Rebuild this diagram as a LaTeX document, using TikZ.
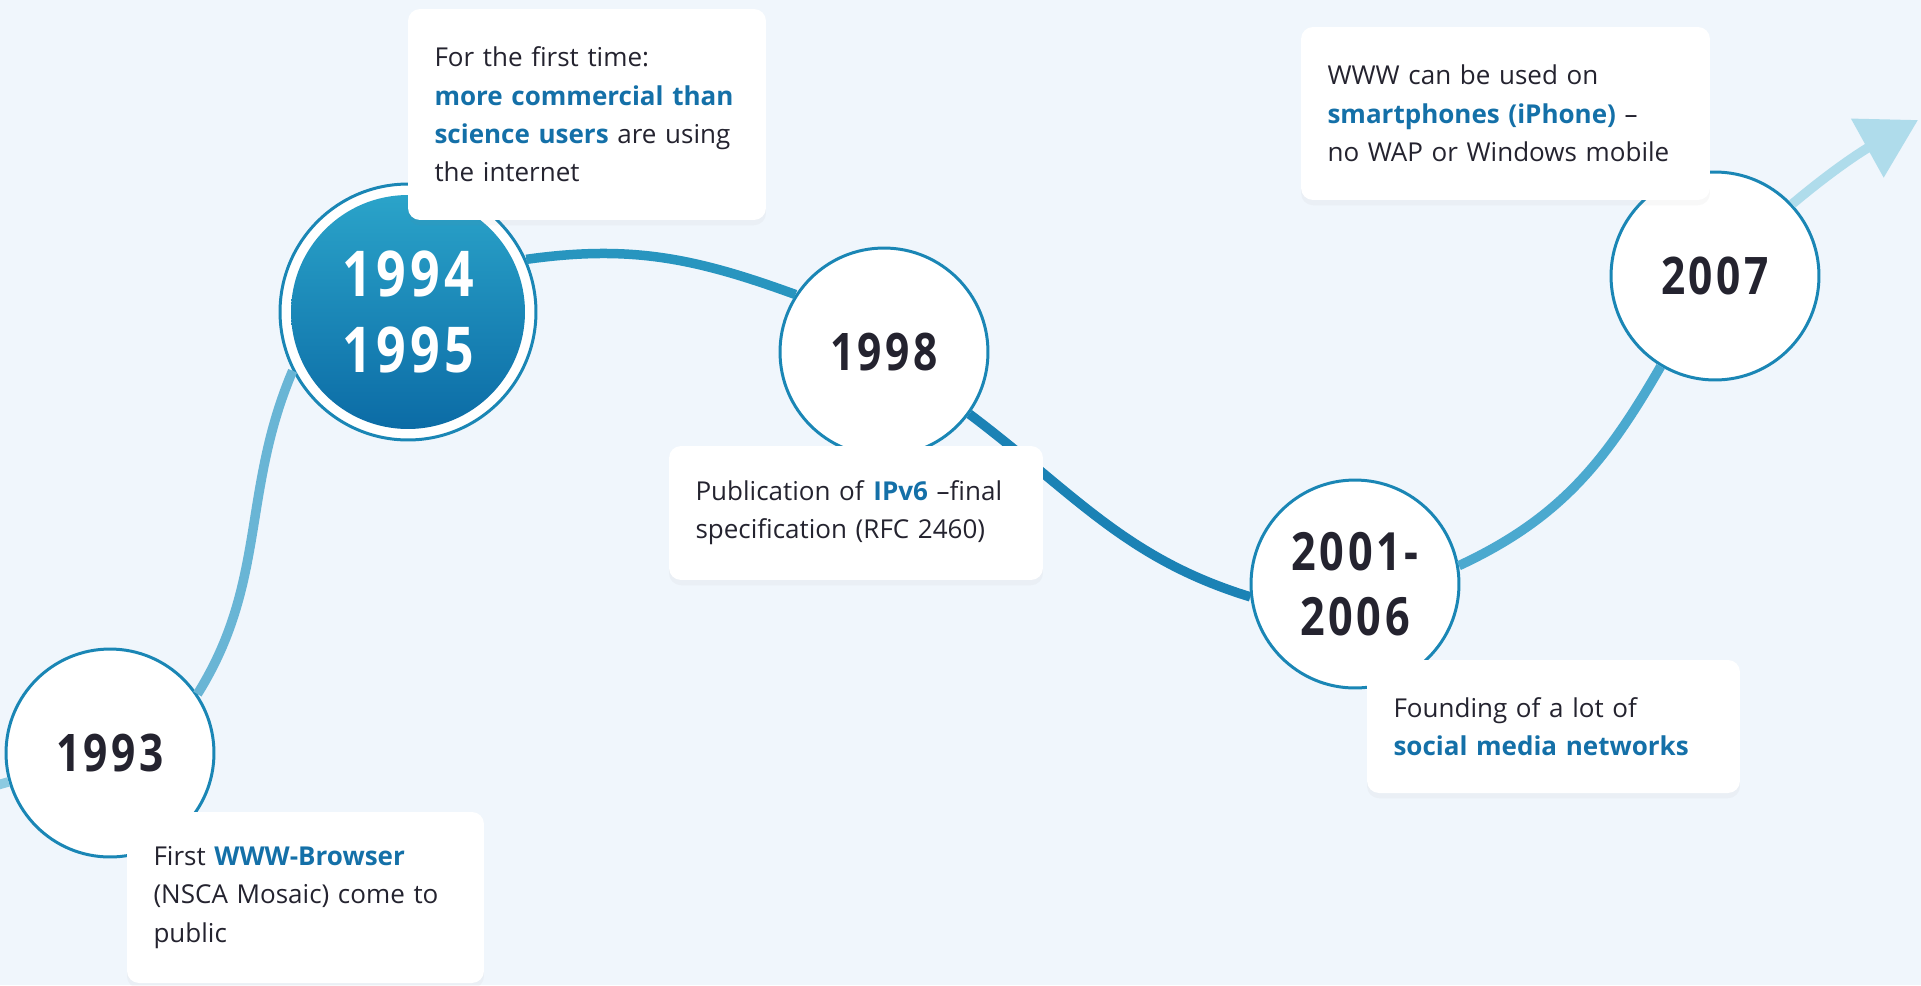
\documentclass[tikz,border=0pt]{standalone}
\usepackage{fontspec}
\setmainfont{Open Sans}
\newfontfamily\yearfont[FakeStretch=0.82,LetterSpace=7]{Open Sans}
\usetikzlibrary{arrows.meta,shadows}

\definecolor{bgcol}{HTML}{F0F6FC}
\definecolor{ringcol}{HTML}{1A86B5}
\definecolor{inkcol}{HTML}{24232F}
\definecolor{hlcol}{HTML}{1470A8}
\definecolor{bigtop}{HTML}{2CA6CB}
\definecolor{bigbot}{HTML}{0A69A4}
\definecolor{lineA}{HTML}{8CCAE1}
\definecolor{lineB}{HTML}{69B5D5}
\definecolor{lineC}{HTML}{2895BF}
\definecolor{lineD}{HTML}{1B82B5}
\definecolor{lineE}{HTML}{4BA9CF}
\definecolor{lineF}{HTML}{AFDCEB}

\newcommand{\hl}[1]{\textbf{\color{hlcol}#1}}
\newcommand{\notefont}{\hyphenpenalty=10000\relax\fontsize{14.8}{21.8}\selectfont}

\tikzset{
  year/.style={circle, draw=ringcol, line width=1.7pt, fill=white,
    minimum size=4.16cm, inner sep=0pt, align=center, text=inkcol,
    font=\yearfont\bfseries\fontsize{29.5}{37}\selectfont},
  bigyear/.style={circle, draw=ringcol, line width=1.7pt, fill=white,
    minimum size=5.12cm, inner sep=0pt, align=center, text=white,
    font=\yearfont\bfseries\fontsize{36}{43}\selectfont,
    path picture={\shade[top color=bigtop, bottom color=bigbot]
      (path picture bounding box.center) circle (2.34cm);}},
  note/.style={fill=white, rounded corners=0.24cm, inner xsep=0.53cm,
    inner ysep=0pt, align=left, text=inkcol, font=\notefont,
    drop shadow={opacity=0.05, shadow xshift=0pt, shadow yshift=-3pt}},
  track/.style={line width=0.19cm},
}

\begin{document}
\begin{tikzpicture}[x=0.02cm, y=-0.02cm]
        \useasboundingbox (0,0) rectangle (1921,985);
        \fill[bgcol] (0,0) rectangle (1921,985);

        % years
        \node[year] (y93) at (110,753) {1993};
        \node[bigyear] (y94) at (408,312) {1994\\1995};
        \node[year] (y98) at (884,352) {1998};
        \node[year, font=\yearfont\bfseries\fontsize{30}{37.4}\selectfont] (y01) at (1355,584) {2001-\\2006};
        \node[year] (y07) at (1715,276) {2007};

        \coordinate (start) at (-20,790);
        \coordinate (tip) at (1918,120);

        % the line behind the circles
        \draw[track, lineA] (start) -- (y93);
        \draw[track, lineB] (y93.34) to[out=58,in=247] (y94.207);
        \draw[track, lineC] (y94.24) to[out=8,in=160] (y98.147);
        \draw[track, lineD] (y98.-36) to[out=-37,in=163] (y01.187);
        \draw[track, lineE] (y01.10) to[out=25,in=240] (y07.239);
        \draw[track, lineF, -{Triangle[length=1.16cm,width=1.3cm]}] (y07.43) to[out=40,in=209] (tip);

        % notes
        \node[note, text width=6.08cm, minimum height=3.42cm] (n93) at (305.5,897.5)
            {First \hl{WWW-Browser}\\(NSCA Mosaic) come to\\public};
        \node[note, text width=6.10cm, minimum height=4.22cm] (n94) at (587,114.5)
            {For the first time:\\\hl{more commercial than}\\\hl{science users} are using\\the internet};
        \node[note, text width=6.42cm, minimum height=2.68cm] (n98) at (856,513)
            {Publication of \hl{IPv6} –final\\specification (RFC 2460)};
        \node[note, text width=6.40cm, minimum height=2.66cm] (n01) at (1553.5,726.5)
            {Founding of a lot of\\\hl{social media networks}};
        \node[note, text width=7.12cm, minimum height=3.46cm] (n07) at (1505.5,113.5)
            {WWW can be used on\\\hl{smartphones (iPhone)} –\\no WAP or Windows mobile};
    \end{tikzpicture}
\end{document}
